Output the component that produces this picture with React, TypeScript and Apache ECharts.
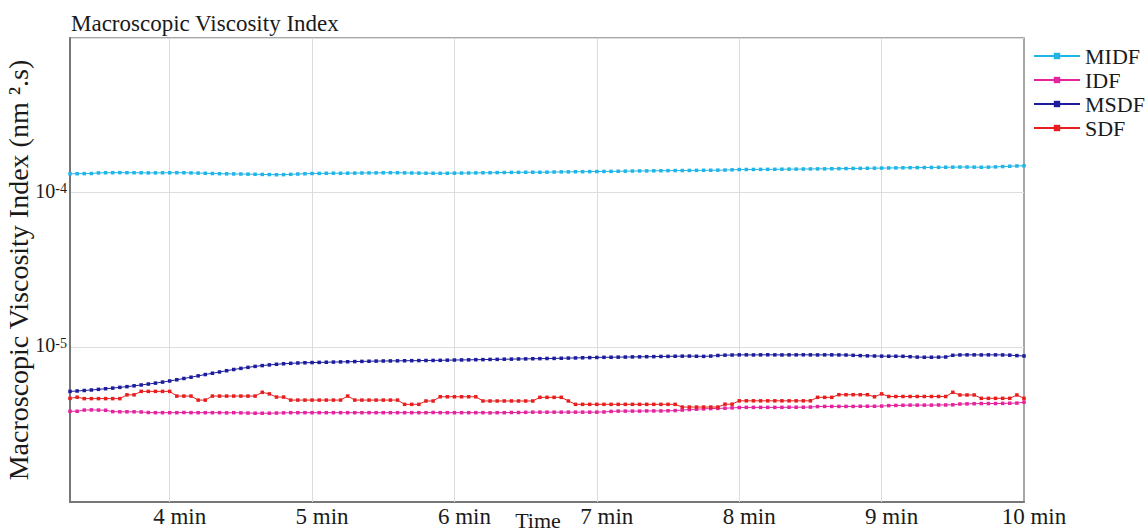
import React, { useEffect, useRef } from "react";
import * as echarts from "echarts";

// sampling of the recording (minutes)
const START_MIN = 3.3;
const STEP_MIN = 0.05;
// values are listed in units of 1e-6 nm².s
const UNIT = 1e-6;

const X_LABEL_TICKS = [4, 5, 6, 7, 8, 9, 10];
const GRID_MINUTES = [4, 5, 6, 7, 8, 9];
const Y_LABEL_EXPONENTS = [-4, -5];
const SERIES_NAMES = ["MIDF", "IDF", "MSDF", "SDF"];
const COLORS = ["#1fb5e6", "#e4239e", "#1c1c9c", "#e81e1e"];

const MIDF = [
  132.5, 132.6, 132.8, 133.0,
  134.2, 134.5, 134.6, 134.8, 134.6, 134.5,
  134.4, 134.2, 134.3, 134.4, 134.5, 134.6, 134.5, 134.2, 133.8, 133.5,
  133.0, 132.6, 132.4, 132.2, 132.0, 131.8, 131.5,
  131.2, 131.0, 130.6, 130.8, 131.4,
  132.0, 132.5, 133.0,
  133.2, 133.4, 133.6, 133.5, 133.7, 133.8, 134.0, 134.2, 134.3, 134.4, 134.6, 134.5,
  134.3, 134.0, 133.8, 133.6, 133.5, 133.4, 133.5, 133.7, 133.9,
  134.0, 134.2, 134.4, 134.5, 134.8, 135.0, 135.2, 135.3, 135.5, 135.6, 135.5, 135.7, 136.0, 136.2, 136.3, 136.5, 136.6, 136.8, 137.0,
  137.2, 137.3, 137.5, 137.8, 138.0, 138.2, 138.3, 138.5, 138.6, 138.8, 139.0, 139.0, 139.2, 139.4, 139.5, 139.6, 139.8, 140.0, 140.5, 141.0,
  141.2, 141.3, 141.4, 141.5, 141.6, 141.8, 142.0, 142.0, 142.2, 142.4, 142.5, 142.6, 142.8, 143.0, 143.2, 143.4, 143.6, 143.8, 144.0, 144.2,
  144.4, 144.6, 144.8, 145.0, 145.2, 145.4, 145.6, 145.8, 146.0, 146.2, 146.4, 146.5, 146.3, 146.0, 146.2, 146.8, 147.5, 148.2, 148.8, 149.2,
];

const IDF = [
  3.86, 3.86,
  3.93, 3.94, 3.93, 3.92,
  3.84, 3.83, 3.83, 3.83, 3.82,
  3.79, 3.78, 3.78, 3.78, 3.78, 3.79, 3.78, 3.78, 3.78, 3.78, 3.78, 3.77, 3.78, 3.77, 3.76, 3.75, 3.75,
  3.75, 3.76, 3.77, 3.78, 3.78, 3.78, 3.78, 3.78, 3.78, 3.78, 3.78, 3.78, 3.78, 3.78, 3.78, 3.78,
  3.78, 3.78, 3.78, 3.78, 3.78, 3.78, 3.78, 3.79, 3.78, 3.78, 3.78, 3.78, 3.78, 3.78, 3.78, 3.77, 3.78, 3.78, 3.79, 3.79,
  3.80, 3.81, 3.81, 3.81, 3.81, 3.81, 3.81, 3.81, 3.81, 3.81, 3.81,
  3.82, 3.85, 3.87, 3.87, 3.87, 3.87, 3.88, 3.88, 3.88, 3.89, 3.90,
  3.93, 3.96, 3.98, 4.00, 4.02, 4.03, 4.04, 4.06,
  4.08, 4.09, 4.09, 4.09, 4.09, 4.09, 4.09, 4.10, 4.10, 4.10, 4.11,
  4.14, 4.15, 4.15, 4.15, 4.15, 4.15, 4.16, 4.16, 4.16, 4.17,
  4.20, 4.21, 4.22, 4.23, 4.23, 4.23, 4.23, 4.24, 4.24, 4.25,
  4.30, 4.31, 4.32, 4.33, 4.33, 4.33, 4.34, 4.35, 4.36,
  4.42,
];

const MSDF = [
  5.19, 5.22, 5.26, 5.30, 5.35, 5.40, 5.45, 5.51, 5.57, 5.64, 5.71, 5.79, 5.87, 5.96, 6.06,
  6.17, 6.29, 6.41, 6.54, 6.67, 6.80, 6.93, 7.06, 7.19, 7.31, 7.42, 7.53,
  7.62, 7.70, 7.77, 7.83, 7.88, 7.92, 7.95, 7.97,
  7.99, 8.01, 8.03, 8.05, 8.07, 8.09, 8.11, 8.13, 8.15, 8.16, 8.17, 8.18, 8.19, 8.20, 8.21, 8.22, 8.23, 8.24, 8.26, 8.28,
  8.29, 8.30, 8.32, 8.33, 8.35, 8.36, 8.38, 8.39, 8.41, 8.42, 8.44, 8.45, 8.47, 8.48, 8.50, 8.52, 8.54, 8.56, 8.58, 8.60,
  8.62, 8.63, 8.64, 8.65, 8.67, 8.68, 8.70, 8.71, 8.73, 8.74, 8.76, 8.77, 8.78, 8.76, 8.74, 8.78, 8.86, 8.90, 8.92, 8.94,
  8.94, 8.93, 8.94, 8.95, 8.94, 8.93, 8.94, 8.94, 8.95, 8.94, 8.93, 8.94, 8.94, 8.93, 8.92, 8.88, 8.84, 8.81, 8.79, 8.77,
  8.76, 8.76, 8.75, 8.70, 8.65, 8.63, 8.63, 8.64, 8.66, 8.88, 8.93, 8.94, 8.94, 8.93, 8.94, 8.94, 8.93, 8.90, 8.84, 8.79,
];

const SDF = [
  4.68, 4.76,
  4.66, 4.66, 4.66, 4.66, 4.66, 4.66,
  4.93, 4.93,
  5.19, 5.19, 5.19, 5.19, 5.19,
  4.84, 4.84, 4.84,
  4.56, 4.56,
  4.84, 4.84, 4.84, 4.84, 4.84, 4.84, 4.84,
  5.12,
  5.00,
  4.77, 4.77,
  4.56, 4.56, 4.56, 4.56, 4.56, 4.56, 4.56, 4.56,
  4.84,
  4.56, 4.56, 4.56, 4.56, 4.56, 4.56, 4.56,
  4.28, 4.28, 4.28,
  4.50, 4.50,
  4.79, 4.79, 4.79, 4.79, 4.79, 4.79,
  4.50, 4.50, 4.50, 4.50, 4.50, 4.50, 4.50, 4.50,
  4.75, 4.75, 4.75, 4.75,
  4.50,
  4.28, 4.28, 4.28, 4.28, 4.28, 4.28, 4.28, 4.28, 4.28, 4.28, 4.28, 4.28, 4.28, 4.28, 4.28,
  4.11, 4.11, 4.11, 4.11, 4.11, 4.11,
  4.29, 4.29,
  4.51, 4.51, 4.51, 4.51, 4.51, 4.51, 4.51, 4.51, 4.51, 4.51, 4.51,
  4.75, 4.75, 4.75,
  4.94, 4.94, 4.94, 4.94, 4.94,
  4.79,
  5.00,
  4.81, 4.81, 4.81, 4.81, 4.81, 4.81, 4.81, 4.81, 4.81,
  5.12,
  4.92, 4.92, 4.92,
  4.68, 4.68, 4.68, 4.68, 4.68,
  4.92,
  4.68,
];

const FONT = "'Liberation Serif', 'DejaVu Serif', serif";

export default function App() {
  const ref = useRef<HTMLDivElement>(null);

  useEffect(() => {
    if (!ref.current) return;
    const chart = echarts.init(ref.current, undefined, { renderer: "svg" });
    const all = [MIDF, IDF, MSDF, SDF];
    const times = MIDF.map((_, i) => +(START_MIN + i * STEP_MIN).toFixed(2));

    const series: any[] = all.map((vals, k) => ({
      name: SERIES_NAMES[k],
      type: "line",
      data: vals.map((v, i) => [times[i], v * UNIT]),
      symbol: "rect",
      symbolSize: 3.5,
      showSymbol: true,
      showAllSymbol: true,
      lineStyle: { width: 1, color: COLORS[k] },
      itemStyle: { color: COLORS[k] },
      emphasis: { disabled: true },
      z: 3,
    }));
    series[0].markLine = {
      silent: true,
      symbol: ["none", "none"],
      label: { show: false },
      z: 1,
      lineStyle: { color: "#dcdcdc", type: "solid", width: 1 },
      emphasis: { disabled: true },
      data: GRID_MINUTES.map((m) => ({ xAxis: m })),
    };

    chart.setOption({
      animation: false,
      backgroundColor: "#ffffff",
      title: {
        text: "Macroscopic Viscosity Index",
        left: 66,
        top: 7,
        textStyle: { fontFamily: FONT, fontSize: 23, fontWeight: "normal", color: "#1a1a1a" },
      },
      legend: {
        orient: "vertical",
        left: 1028,
        top: 40,
        itemWidth: 46,
        itemHeight: 8,
        itemGap: 2,
        data: SERIES_NAMES,
        textStyle: { fontFamily: FONT, fontSize: 22, color: "#1a1a1a" },
      },
      grid: {
        left: 70,
        right: 124,
        top: 38,
        bottom: 27,
        outerBoundsMode: "none",
        containLabel: false,
        show: true,
        borderColor: "#8a8a8a",
        borderWidth: 1.5,
      },
      xAxis: {
        type: "value",
        min: START_MIN,
        max: 10,
        name: "Time",
        nameLocation: "middle",
        nameGap: 7,
        nameMoveOverlap: false,
        nameTextStyle: {
          fontFamily: FONT,
          fontSize: 22,
          color: "#1a1a1a",
          verticalAlign: "top",
          padding: [0, 18, 0, 0],
        },
        axisLine: { show: true, lineStyle: { color: "#777", width: 2 } },
        axisTick: { show: false },
        splitLine: { show: false },
        axisLabel: {
          customValues: X_LABEL_TICKS,
          formatter: (v: number) => `${v} min`,
          fontFamily: FONT,
          fontSize: 23,
          color: "#1a1a1a",
          margin: 3,
          padding: [0, 0, 0, 20],
        },
      },
      yAxis: {
        type: "log",
        logBase: 10,
        min: 1e-6,
        max: 1e-3,
        name: "Macroscopic Viscosity Index (nm ².s)",
        nameLocation: "middle",
        nameGap: 38,
        nameRotate: 90,
        nameMoveOverlap: false,
        nameTextStyle: { fontFamily: FONT, fontSize: 28, color: "#1a1a1a" },
        axisLine: { show: true, lineStyle: { color: "#777", width: 2 } },
        axisTick: { show: false },
        splitLine: { show: true, lineStyle: { color: "#dedede", width: 1 } },
        axisLabel: {
          margin: 3,
          formatter: (v: number) => {
            const e = Math.round(Math.log10(v));
            return Y_LABEL_EXPONENTS.includes(e) ? `{b|10}{s|${e}}` : "";
          },
          rich: {
            b: { fontFamily: FONT, fontSize: 20, color: "#1a1a1a", lineHeight: 22, padding: [0, 0, 4, 0] },
            s: { fontFamily: FONT, fontSize: 14, color: "#1a1a1a", verticalAlign: "top", lineHeight: 22 },
          },
        },
      },
      series,
    });

    return () => chart.dispose();
  }, []);

  return (
    <div
      ref={ref}
      style={{ position: "fixed", left: 0, top: 0, width: 1148, height: 529, background: "#fff" }}
    />
  );
}
